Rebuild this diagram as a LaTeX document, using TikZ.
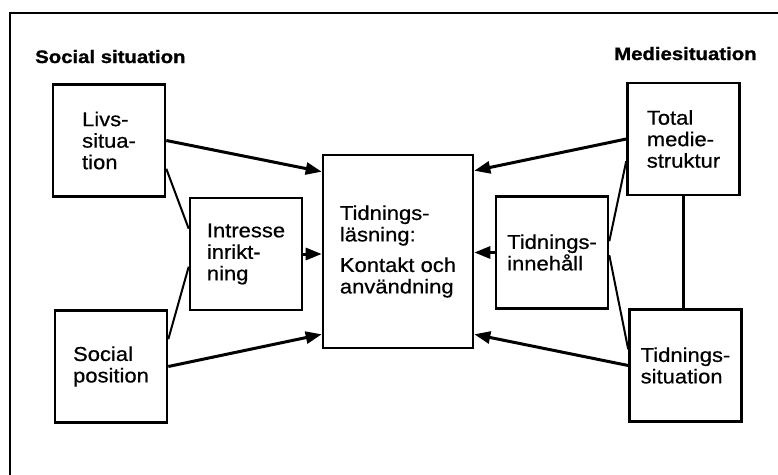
\documentclass[tikz,border=0pt]{standalone}
\usepackage{fontspec}
\setmainfont{Liberation Sans}[FakeStretch=1.1,FakeBold=0.6]
\newfontfamily\titlefont{Liberation Sans}[FakeStretch=1.13,BoldFeatures={FakeBold=1.2}]
\usetikzlibrary{arrows.meta,calc}
\begin{document}
\begin{tikzpicture}[x=1pt,y=-1pt,
  box/.style={draw,line width=2.6pt,minimum width=112pt,minimum height=112pt,
    align=left,inner sep=0pt,font=\fontsize{20}{21.5}\selectfont},
  ttl/.style={anchor=base west,inner sep=0pt,font=\titlefont\fontsize{18}{20}\selectfont\bfseries},
  arr/.style={line width=3pt,-{Triangle[length=16pt,width=12pt]}},
  link/.style={line width=2pt}]
\useasboundingbox (0,0) rectangle (778,474);
\clip (0,0) rectangle (778,474);
\draw[line width=2.6pt] (10,13) rectangle (800,500);
\node[ttl] (t1) at (35,63) {Social situation};
\node[ttl] (t2) at (614,60) {Mediesituation};
\node[box] (livs) at (109,140.5) {Livs-\\situa-\\tion};
\node[box] (intr) at (246,254) {Intresse\\inrikt-\\ning};
\node[box] (soc) at (111,366.5) {Social\\position};
\node[box,minimum width=150pt,minimum height=193pt] (cen) at (398,251.5)
  {Tidnings-\\läsning:\\[9pt]Kontakt och\\användning};
\node[box] (tot) at (683.5,139) {Total\\medie-\\struktur};
\node[box] (inne) at (552,252.5) {Tidnings-\\innehåll};
\node[box] (sit) at (685.5,365.5) {Tidnings-\\situation};
\draw[arr] (livs.east) -- ($(cen.north west)+(0,18)$);
\draw[link] ($(livs.south east)+(0,-29)$) -- ($(intr.north west)+(0,32)$);
\draw[link] ($(soc.north east)+(0,30)$) -- ($(intr.north west)+(0,70)$);
\draw[arr] (soc.east) -- ($(cen.south west)+(0,-15)$);
\draw[arr] (intr.east) -- (intr.east -| cen.west);
\draw[arr] (tot.west) -- ($(cen.north east)+(0,17)$);
\draw[link] ($(tot.south west)+(0,-35)$) -- ($(inne.north east)+(0,46)$);
\draw[link] ($(inne.north east)+(0,60)$) -- ($(sit.north west)+(0,41)$);
\draw[line width=2.6pt] (tot.south) -- (tot.south |- sit.north);
\draw[arr] (inne.west) -- (inne.west -| cen.east);
\draw[arr] (sit.west) -- ($(cen.south east)+(0,-15)$);
\end{tikzpicture}
\end{document}
